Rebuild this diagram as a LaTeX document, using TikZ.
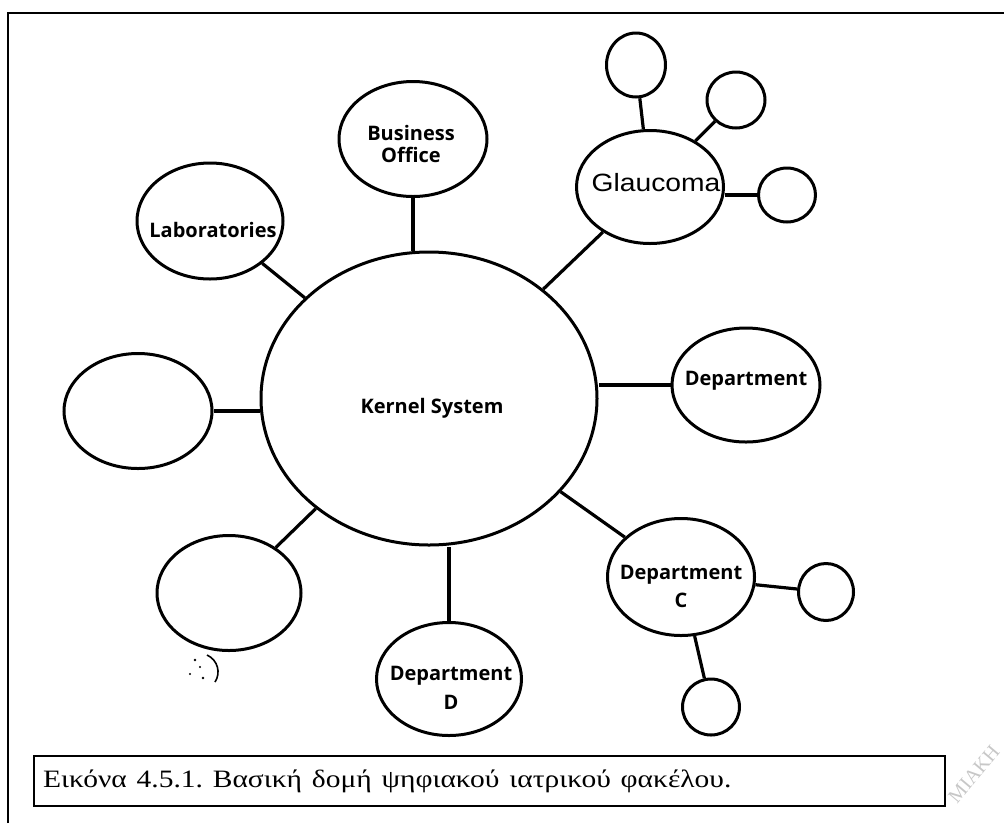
\documentclass[tikz,border=0pt]{standalone}
\usepackage{fontspec}
\setmainfont{Liberation Serif}
\newfontfamily\lblfont{Open Sans}
\newfontfamily\arialfont{Liberation Sans}
\usetikzlibrary{shapes.geometric}
\frenchspacing
\begin{document}
\begin{tikzpicture}[x=1pt,y=-1pt,
  bubble/.style={draw, ellipse, line width=3pt, inner sep=0pt},
  conn/.style={line width=3.2pt},
  lbl/.style={font=\lblfont\bfseries\fontsize{20}{22}\selectfont, inner sep=0pt, align=center},
]
\useasboundingbox (0,0) rectangle (1004,823);
% outer frame (open at right and bottom)
\draw[line width=2.6pt] (8,823) -- (8,13) -- (1004,13);

% bubbles
\node[bubble, minimum width=336pt, minimum height=293pt] (kernel) at (429,398.5) {};
\node[bubble, minimum width=148pt, minimum height=115pt] (bo) at (413,139) {};
\node[bubble, minimum width=146pt, minimum height=116pt] (lab) at (210,221) {};
\node[bubble, minimum width=147pt, minimum height=113pt] (glau) at (650,187) {};
\node[bubble, minimum width=148pt, minimum height=114pt] (dept) at (746,385) {};
\node[bubble, minimum width=148pt, minimum height=115pt] (left) at (138,411) {};
\node[bubble, minimum width=144pt, minimum height=115pt] (ll) at (229,593) {};
\node[bubble, minimum width=145pt, minimum height=113pt] (deptD) at (449,679) {};
\node[bubble, minimum width=147pt, minimum height=117pt] (deptC) at (681,577) {};
\node[bubble, minimum width=59pt, minimum height=64pt] (g1) at (636,65) {};
\node[bubble, minimum width=58pt, minimum height=56pt] (g2) at (736,100) {};
\node[bubble, minimum width=57pt, minimum height=54pt] (g3) at (787,195) {};
\node[bubble, minimum width=55pt, minimum height=57pt] (c1) at (826,592) {};
\node[bubble, minimum width=57pt, minimum height=56pt] (c2) at (711,707) {};

% labels
\node[lbl] (kernelT) at (432,408) {Kernel System};
\node[lbl] (boT) at (411,144) {Business\\Office};
\node[lbl] (labT) at (213,230) {Laboratories};
\node[inner sep=0pt, font=\arialfont\fontsize{25}{28}\selectfont] (glauT) at (656,183) {\scalebox{1.13}[1]{Glaucoma}};
\node[lbl] (deptT) at (746,381) {Department};
\node[lbl, font=\lblfont\bfseries\fontsize{20}{28}\selectfont] (deptCT) at (681,586) {Department\\C};
\node[lbl, font=\lblfont\bfseries\fontsize{20}{29}\selectfont] (deptDT) at (451,688) {Department\\D};

% connectors
\draw[conn] (left.east) -- (left.east -| kernel.west);
\draw[conn] (dept.west) -- (dept.west -| kernel.east);
\draw[conn] (bo.south) -- (bo.south |- kernel.north);
\draw[conn] (deptD.north) -- (deptD.north |- kernel.south);
\draw[conn] (lab) -- (kernel);
\draw[conn] (glau) -- (kernel);
\draw[conn] (ll) -- (kernel);
\draw[conn] (deptC) -- (kernel);
\draw[conn] (g1) -- (glau);
\draw[conn] (g2) -- (glau);
\draw[conn] (g3.west) -- (g3.west -| glau.east);
\draw[conn] (c1) -- (deptC);
\draw[conn] (c2) -- (deptC);

% scan smudge
\draw[line width=1.6pt] (207,655) .. controls (218,660) and (221,673) .. (215,682);
\fill (195,660) circle (1.3pt) (200,667) circle (1.2pt) (190,674) circle (1.2pt) (203,678) circle (1.3pt);

% caption
\node[draw, line width=2.2pt, anchor=west, minimum width=911pt, minimum height=50pt,
  inner xsep=9pt, text width=893pt, align=left, font=\fontsize{25}{28}\selectfont]
  (caption) at (33,781) {\scalebox{1.18}[1]{Εικόνα 4.5.1. Βασική δομή ψηφιακού ιατρικού φακέλου.}};

% watermark (faint scan mark)
\node[rotate=50, anchor=west, text=black!22, inner sep=0pt,
  font=\fontsize{20}{22}\selectfont] (wm) at (952,800) {ΜΙΑΚΗ};
\end{tikzpicture}
\end{document}
